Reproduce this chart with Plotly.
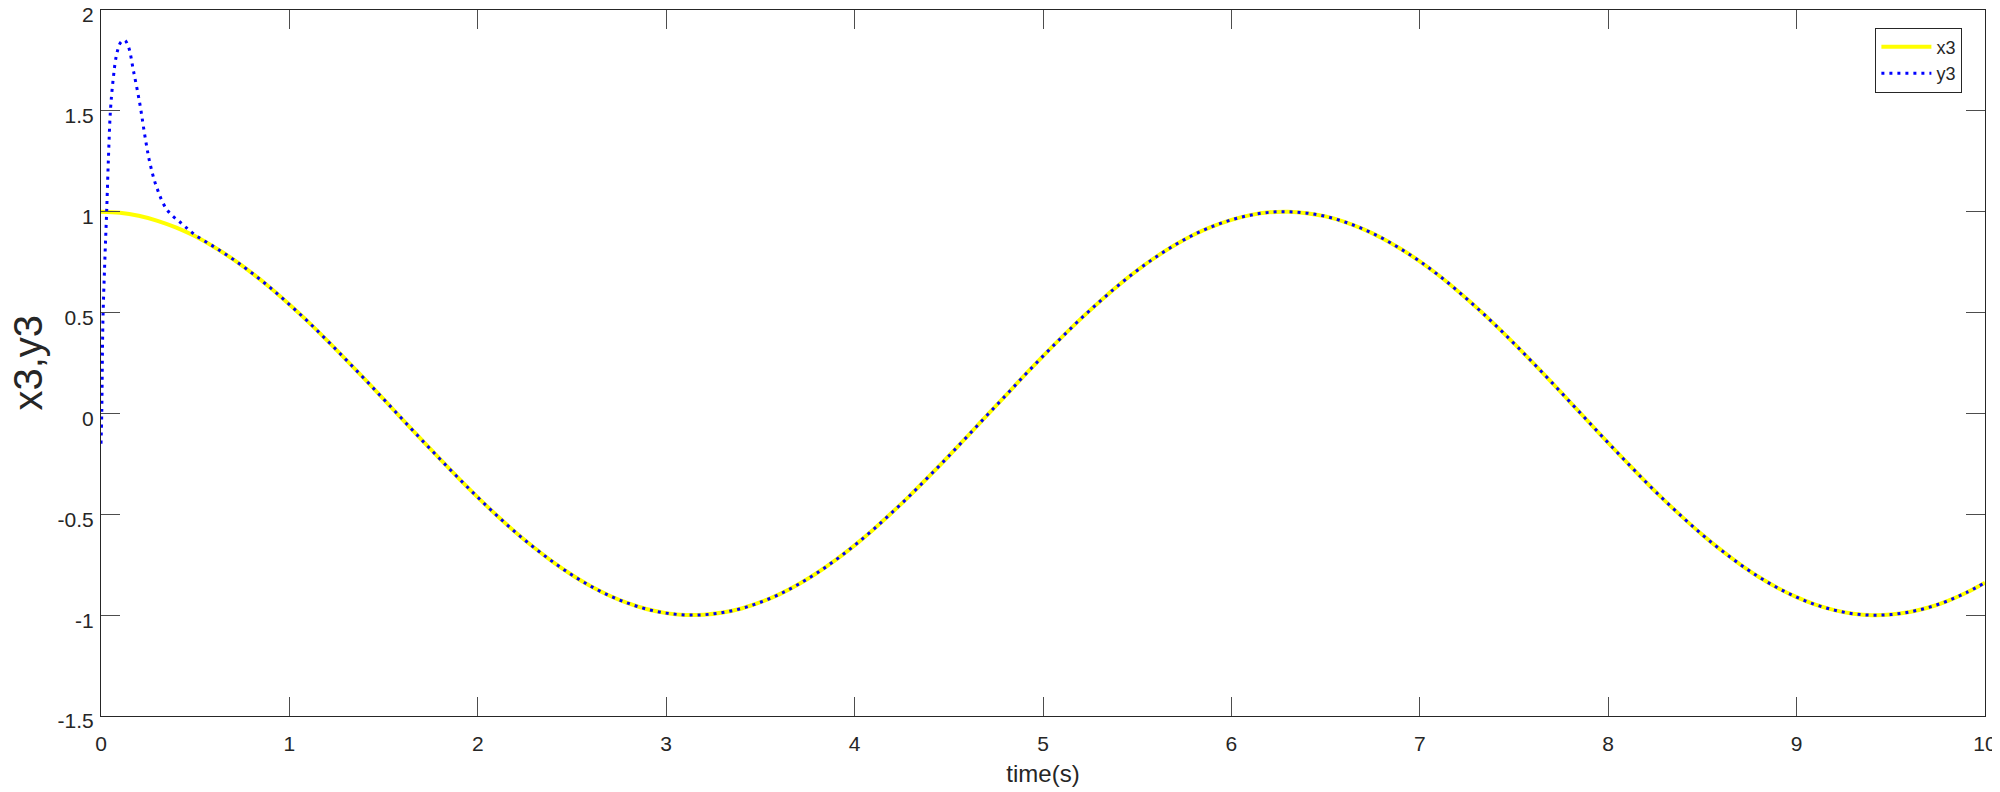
import plotly.graph_objects as go

t_x3 = [round(i * 0.1, 1) for i in range(101)]
x3 = [1.000, 0.995, 0.980, 0.955, 0.921, 0.878, 0.825, 0.765, 0.697, 0.622,
      0.540, 0.454, 0.362, 0.267, 0.170, 0.071, -0.029, -0.129, -0.227, -0.323,
      -0.416, -0.505, -0.589, -0.666, -0.737, -0.801, -0.857, -0.904, -0.942, -0.971,
      -0.990, -0.999, -0.998, -0.987, -0.967, -0.936, -0.897, -0.848, -0.791, -0.726,
      -0.654, -0.575, -0.490, -0.401, -0.307, -0.211, -0.112, -0.012, 0.087, 0.187,
      0.284, 0.378, 0.469, 0.554, 0.635, 0.709, 0.776, 0.835, 0.886, 0.927,
      0.960, 0.983, 0.997, 1.000, 0.993, 0.977, 0.950, 0.914, 0.869, 0.815,
      0.754, 0.685, 0.608, 0.526, 0.439, 0.347, 0.252, 0.154, 0.054, -0.046,
      -0.146, -0.244, -0.340, -0.432, -0.519, -0.602, -0.678, -0.748, -0.811, -0.865,
      -0.911, -0.948, -0.975, -0.993, -1.000, -0.997, -0.984, -0.962, -0.930, -0.889,
      -0.839]

# y3: initial transient, then it tracks x3
t_y3_start = [0.0, 0.004, 0.010, 0.020, 0.030, 0.040, 0.050, 0.065, 0.083, 0.105,
              0.125, 0.145, 0.172, 0.207, 0.234, 0.260, 0.296, 0.35, 0.43, 0.5, 0.6]
y3_start = [-0.15, 0.0, 0.45, 0.75, 1.0, 1.28, 1.50, 1.66, 1.78, 1.84,
            1.85, 1.82, 1.70, 1.53, 1.37, 1.24, 1.12, 1.01, 0.94, 0.885, 0.826]
t_y3 = t_y3_start + t_x3[7:]
y3 = y3_start + x3[7:]

x_ticks = [0, 1, 2, 3, 4, 5, 6, 7, 8, 9, 10]
y_ticks = [-1.5, -1, -0.5, 0, 0.5, 1, 1.5, 2]
y_ticktext = ['-1.5', '-1', '-0.5', '0', '0.5', '1', '1.5', '2']

fig = go.Figure()
fig.add_trace(go.Scatter(x=t_x3, y=x3, mode='lines', name='x3',
                         line=dict(color='#ffff00', width=4, shape='spline')))
fig.add_trace(go.Scatter(x=t_y3, y=y3, mode='lines', name='y3',
                         line=dict(color='#0000ff', width=3, dash='3px,5px', shape='spline')))

font_name = 'Liberation Sans, Arial'
axis_style = dict(showgrid=False, zeroline=False, showline=True, linecolor='#262626',
                  linewidth=1, mirror='ticks', ticks='inside', ticklen=19,
                  tickcolor='#4d4d4d', tickwidth=1, ticklabeloverflow='allow',
                  automargin=False,
                  tickfont=dict(family=font_name, size=21, color='#262626'))

fig.update_xaxes(range=[0, 10], tickvals=x_ticks, ticklabelstandoff=9,
                 title=dict(text='time(s)', font=dict(family=font_name, size=24,
                                                      color='#262626'),
                            standoff=10),
                 **axis_style)
fig.update_yaxes(range=[-1.5, 2.0001], tickvals=y_ticks, ticktext=y_ticktext,
                 ticklabelstandoff=2, ticklabelshift=5,
                 **axis_style)

# y label as an annotation so it can sit closer to the page edge
fig.add_annotation(text='x3,y3', textangle=-90, showarrow=False,
                   xref='paper', yref='paper', x=-0.039, y=0.5,
                   xanchor='center', yanchor='middle',
                   font=dict(family=font_name, size=40, color='#262626'))

# the page has an 8px body margin, so margins are offset to land the axes in place
fig.update_layout(
    width=2000, height=792,
    margin=dict(l=93, r=23, t=2, b=84),
    plot_bgcolor='white', paper_bgcolor='white',
    showlegend=True,
    legend=dict(x=0.988, y=0.975, xanchor='right', yanchor='top',
                bgcolor='white', bordercolor='#262626', borderwidth=1,
                font=dict(family=font_name, size=18, color='#262626'),
                itemwidth=50),
)

fig.write_html("out.html")
